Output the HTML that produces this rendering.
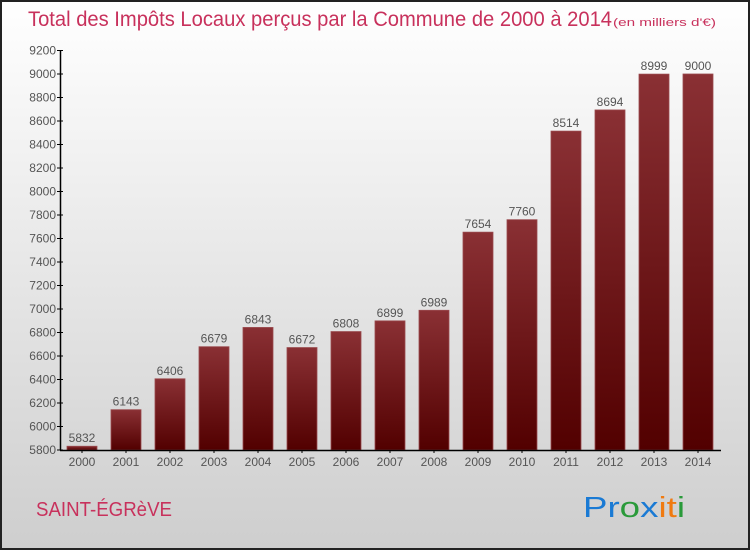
<!DOCTYPE html>
<html><head><meta charset="utf-8"><style>
body{margin:0}
svg{display:block;font-family:"Liberation Sans",sans-serif}
</style></head><body>
<svg id="c" width="750" height="550" viewBox="0 0 750 550">
<defs>
<linearGradient id="bg" x1="0" y1="0" x2="0" y2="1"><stop offset="0" stop-color="#ffffff"/><stop offset="1" stop-color="#cecece"/></linearGradient>
<linearGradient id="bar" x1="0" y1="0" x2="0" y2="1"><stop offset="0" stop-color="#8a3034"/><stop offset="1" stop-color="#520000"/></linearGradient>
</defs>
<rect x="1" y="1" width="748" height="548" fill="url(#bg)" stroke="#222" stroke-width="2"/>
<text x="28" y="26" font-size="21" fill="#c8315c" textLength="584" lengthAdjust="spacingAndGlyphs">Total des Impôts Locaux perçus par la Commune de 2000 à 2014</text>
<text x="613" y="26" font-size="11" fill="#c8315c" textLength="103" lengthAdjust="spacingAndGlyphs">(en milliers d'€)</text>
<g id="plot"></g>
<text x="36" y="516" font-size="20" fill="#c8315c" textLength="136" lengthAdjust="spacingAndGlyphs">SAINT-ÉGRèVE</text>
<text x="583" y="517" font-size="29" textLength="102" lengthAdjust="spacingAndGlyphs"><tspan fill="#1a7ad4">Pr</tspan><tspan fill="#2a9a3a">o</tspan><tspan fill="#1a7ad4">x</tspan><tspan fill="#f07a10">i</tspan><tspan fill="#f07a10">t</tspan><tspan fill="#2a9a3a">i</tspan></text>
</svg>
<script>
const years=["2000","2001","2002","2003","2004","2005","2006","2007","2008","2009","2010","2011","2012","2013","2014"];
const values=[5832,6143,6406,6679,6843,6672,6808,6899,6989,7654,7760,8514,8694,8999,9000];
const yTicks=[5800,6000,6200,6400,6600,6800,7000,7200,7400,7600,7800,8000,8200,8400,8600,8800,9000,9200];
const NS="http://www.w3.org/2000/svg";
const g=document.getElementById('plot');
const yMin=5800,yMax=9200,y0=450,y1=50.5;
function y(v){return y0-(v-yMin)/(yMax-yMin)*(y0-y1);}
function x(i){return 82+i*44;}
function el(t,a,txt){const e=document.createElementNS(NS,t);for(const k in a)e.setAttribute(k,a[k]);if(txt!==undefined)e.textContent=txt;g.appendChild(e);return e;}
values.forEach((v,i)=>{
 const r=el('rect',{x:x(i)-15,y:y(v),width:30,height:y0-y(v),fill:'url(#bar)',stroke:'#9a4a4e','stroke-width':0.8});
 
 
 const l=el('text',{x:x(i),y:y(v)-4,'font-size':12,fill:'#555','text-anchor':'middle'},String(v));
 
 
 const xl=el('text',{x:x(i),y:466,'font-size':12,fill:'#555','text-anchor':'middle'},years[i]);
 
 
 const tk=el('line',{x1:x(i),x2:x(i),y1:y0,y2:y0+3,stroke:'#000'});
 
 
});
yTicks.forEach(t=>{
 const l=el('line',{x1:57,x2:63,y1:y(t),y2:y(t),stroke:'#000'});
 
 
 const tx=el('text',{x:56,y:y(t)+4,'font-size':12,fill:'#555','text-anchor':'end'},String(t));
 
 
});
const ya=el('line',{x1:60.5,x2:60.5,y1:y1,y2:y0,stroke:'#000','stroke-width':1.5});


const xa=el('line',{x1:60,x2:721,y1:y0+0.5,y2:y0+0.5,stroke:'#000','stroke-width':1.5});


</script>
</body></html>
